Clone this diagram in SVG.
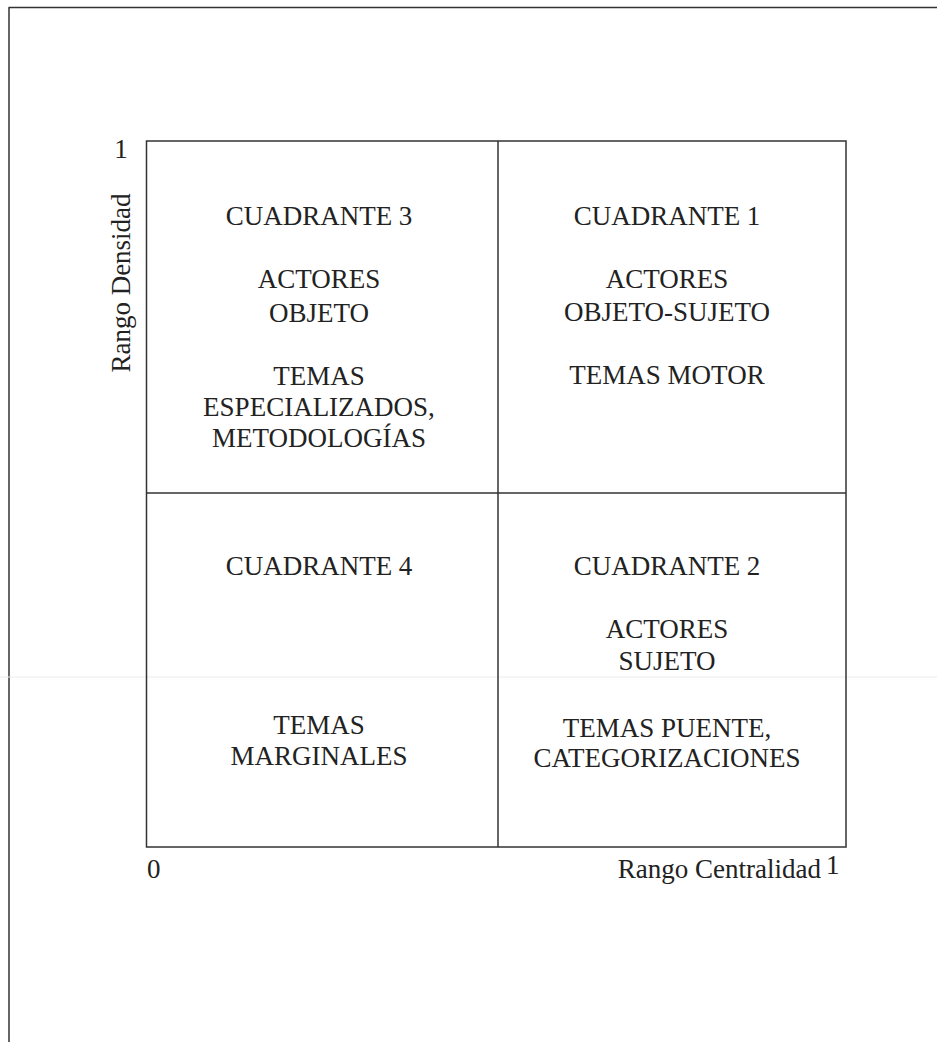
<svg xmlns="http://www.w3.org/2000/svg" width="937" height="1042" viewBox="0 0 937 1042">
  <style>
    .t { font-family: "Liberation Serif", "DejaVu Serif", serif; font-size: 27px; fill: #222; text-anchor: middle; }
    .ax { font-family: "Liberation Serif", "DejaVu Serif", serif; font-size: 27px; fill: #222; }
    .ln { stroke: #333; stroke-width: 1.5; fill: none; }
  </style>
  <rect x="0" y="0" width="937" height="1042" fill="#ffffff"/>
  <g id="page-frame">
    <line class="ln" x1="8.5" y1="7.5" x2="937" y2="7.5"/>
    <line class="ln" x1="9" y1="7.5" x2="9" y2="1042"/>
    <line x1="0" y1="677" x2="937" y2="677" stroke="#ececec" stroke-width="1"/>
  </g>
  <g id="connectors">
    <rect class="ln" x="146.5" y="141" width="699.5" height="706"/>
    <line class="ln" x1="498" y1="141" x2="498" y2="847"/>
    <line class="ln" x1="146.5" y1="493" x2="846" y2="493"/>
  </g>
  <g id="cuadrante3">
    <text class="t" x="319" y="225">CUADRANTE 3</text>
    <text class="t" x="319" y="288">ACTORES</text>
    <text class="t" x="319" y="322">OBJETO</text>
    <text class="t" x="319" y="385">TEMAS</text>
    <text class="t" x="319" y="416">ESPECIALIZADOS,</text>
    <text class="t" x="319" y="447">METODOLOGÍAS</text>
  </g>
  <g id="cuadrante1">
    <text class="t" x="667" y="225">CUADRANTE 1</text>
    <text class="t" x="667" y="288">ACTORES</text>
    <text class="t" x="667" y="321">OBJETO-SUJETO</text>
    <text class="t" x="667" y="384">TEMAS MOTOR</text>
  </g>
  <g id="cuadrante4">
    <text class="t" x="319" y="575">CUADRANTE 4</text>
    <text class="t" x="319" y="734">TEMAS</text>
    <text class="t" x="319" y="765">MARGINALES</text>
  </g>
  <g id="cuadrante2">
    <text class="t" x="667" y="575">CUADRANTE 2</text>
    <text class="t" x="667" y="638">ACTORES</text>
    <text class="t" x="667" y="670">SUJETO</text>
    <text class="t" x="667" y="737">TEMAS PUENTE,</text>
    <text class="t" x="667" y="767">CATEGORIZACIONES</text>
  </g>
  <g id="ejes">
    <text class="ax" x="121" y="158" text-anchor="middle" font-size="24">1</text>
    <text class="ax" x="0" y="0" text-anchor="middle" transform="translate(130 283) rotate(-90)">Rango Densidad</text>
    <text class="ax" x="147" y="878">0</text>
    <text class="ax" x="821" y="878" text-anchor="end">Rango Centralidad</text>
    <text class="ax" x="826" y="874" font-size="24">1</text>
  </g>
</svg>
